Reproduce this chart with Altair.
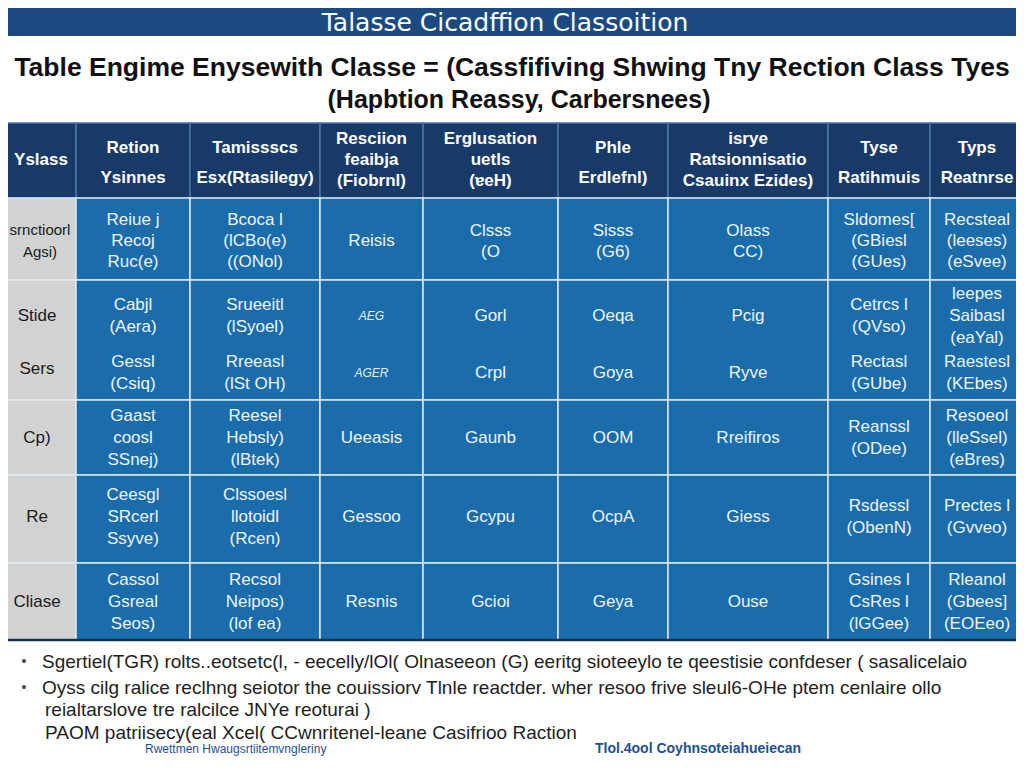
import altair as alt
import pandas as pd

# ---------------- content ----------------
title_text = "Talasse  Cicadffion Classoition"
subtitle_lines = [
    "Table Engime Enysewith  Classe = (Cassfifiving Shwing Tny Rection Class Tyes",
    "(Hapbtion Reassy, Carbersnees)",
]
header_labels = [
    "Yslass",
    "Retion\nYsinnes",
    "Tamissscs\nEsx(Rtasilegy)",
    "Resciion\nfeaibja\n(Fiobrnl)",
    "Erglusation\nuetls\n(ɐeH)",
    "Phle\nErdlefnl)",
    "isrye\nRatsionnisatio\nCsauinx Ezides)",
    "Tyse\nRatihmuis",
    "Typs\nReatnrse",
]
row_labels = ["srnctioorl\nAgsi)", ["Stide", "Sers"], "Cp)", "Re", "Cliase"]
row1 = ["Reiue j\nRecoj\nRuc(e)", "Bcoca l\n(lCBo(e)\n((ONol)", "Reisis", "Clsss\n(O",
        "Sisss\n(G6)", "Olass\nCC)", "Sldomes[\n(GBiesl\n(GUes)", "Recsteal\n(leeses)\n(eSvee)"]
row2_top = ["Cabjl\n(Aera)", "Srueeitl\n(lSyoel)", "AEG", "Gorl", "Oeqa", "Pcig",
            "Cetrcs l\n(QVso)", "leepes\nSaibasl\n(eaYal)"]
row2_bot = ["Gessl\n(Csiq)", "Rreeasl\n(lSt OH)", "AGER", "Crpl", "Goya", "Ryve",
            "Rectasl\n(GUbe)", "Raestesl\n(KEbes)"]
row3 = ["Gaast\ncoosl\nSSnej)", "Reesel\nHebsly)\n(lBtek)", "Ueeasis", "Gaunb", "OOM",
        "Rreifiros", "Reanssl\n(ODee)", "Resoeol\n(lleSsel)\n(eBres)"]
row4 = ["Ceesgl\nSRcerl\nSsyve)", "Clssoesl\nllotoidl\n(Rcen)", "Gessoo", "Gcypu", "OcpA",
        "Giess", "Rsdessl\n(ObenN)", "Prectes l\n(Gvveo)"]
row5 = ["Cassol\nGsreal\nSeos)", "Recsol\nNeipos)\n(lof ea)", "Resnis", "Gcioi", "Geya",
        "Ouse", "Gsines l\nCsRes l\n(lGGee)", "Rleanol\n(Gbees]\n(EOEeo)"]
footnotes = [
    "Sgertiel(TGR) rolts..eotsetc(l, - eecelly/lOl( Olnaseeon (G)  eeritg  sioteeylo te qeestisie confdeser ( sasalicelaio",
    "Oyss cilg ralice reclhng seiotor the couissiorv  Tlnle reactder. wher  resoo frive sleul6-OHe ptem cenlaire ollo",
    "reialtarslove  tre ralcilce JNYe reoturai )",
    "PAOM patriisecy(eal Xcel( CCwnritenel-leane Casifrioo Raction",
]
source_left = "Rwettmen Hwaugsrtiitemvngleriny"
source_right = "Tlol.4ool Coyhnsoteiahueiecan"

# ---------------- layout (pixel grid) ----------------
col_edges = [0, 76, 190, 320, 423, 558, 668, 828, 930, 1024]
row_edges = [123, 198, 280, 400, 475, 563, 640]
HEADER_BG = "#183a69"
BODY_BG = "#1b6cab"
GREY_BG = "#d2d2d2"
BANNER = "#1b4a80"

cells = []
for c in range(9):
    cells.append(dict(x=col_edges[c], x2=col_edges[c + 1], y=row_edges[0], y2=row_edges[1],
                      fill=HEADER_BG, stroke="#4f74a6"))
for r in range(1, 6):
    for c in range(9):
        cells.append(dict(x=col_edges[c], x2=col_edges[c + 1], y=row_edges[r], y2=row_edges[r + 1],
                          fill=GREY_BG if c == 0 else BODY_BG, stroke="#dfe9f3"))
cells_df = pd.DataFrame(cells)

def mid(a, b):
    return (a + b) / 2

def lines_for(text, cx, cy, spacing, kind):
    parts = text.split("\n")
    n = len(parts)
    return [dict(x=cx, y=cy + (i - (n - 1) / 2) * spacing, t=p, kind=kind) for i, p in enumerate(parts)]

FIRST_X = 41
text_rows = []
for c, lab in enumerate(header_labels):
    cx = FIRST_X if c == 0 else mid(col_edges[c], col_edges[c + 1])
    n = len(lab.split("\n"))
    sp = 30 if n == 2 else 21
    cy = 163 if n == 2 else 160
    text_rows += lines_for(lab, cx, cy, sp, "head")
body_rows = [row1, None, row3, row4, row5]
row_centers = [241, None, 438, 517, 602]
for r in range(5):
    lab = row_labels[r]
    if r == 1:
        text_rows += lines_for(lab[0], FIRST_X - 4, 316, 22, "first")
        text_rows += lines_for(lab[1], FIRST_X - 4, 369, 22, "first")
        for c in range(8):
            cx = mid(col_edges[c + 1], col_edges[c + 2])
            kind = "small" if c == 2 else "body"
            text_rows += lines_for(row2_top[c], cx, 316, 22, kind)
            text_rows += lines_for(row2_bot[c], cx, 373, 22, kind)
    else:
        kind = "first_small" if r == 0 else "first"
        text_rows += lines_for(lab, FIRST_X - (1 if r == 0 else 4), row_centers[r], 22, kind)
        sp = 21 if r == 0 else 22
        for c in range(8):
            cx = mid(col_edges[c + 1], col_edges[c + 2])
            text_rows += lines_for(body_rows[r][c], cx, row_centers[r], sp, "body")
text_df = pd.DataFrame(text_rows)

foot_df = pd.DataFrame([
    dict(x=42, y=662, t=footnotes[0]),
    dict(x=42, y=688, t=footnotes[1]),
    dict(x=45, y=710, t=footnotes[2]),
    dict(x=45, y=733, t=footnotes[3]),
])
bullets_df = pd.DataFrame([dict(x=24, y=662, t="•"), dict(x=24, y=688, t="•")])

# ---------------- scales ----------------
W, H = 1008, 748
xs = alt.Scale(domain=[8, 8 + W], nice=False, zero=False)
ys = alt.Scale(domain=[8, 8 + H], nice=False, zero=False, reverse=True)
X = lambda f="x": alt.X(f"{f}:Q", scale=xs, axis=None)
Y = lambda f="y": alt.Y(f"{f}:Q", scale=ys, axis=None)

banner = alt.Chart(pd.DataFrame([dict(x=0, x2=1024, y=0, y2=36)])).mark_rect(color=BANNER).encode(
    x=X(), x2="x2:Q", y=Y(), y2="y2:Q")

cell_layer = alt.Chart(cells_df).mark_rect(strokeWidth=1.5).encode(
    x=X(), x2="x2:Q", y=Y(), y2="y2:Q",
    fill=alt.Fill("fill:N", scale=None), stroke=alt.Stroke("stroke:N", scale=None))

bottom_line = alt.Chart(pd.DataFrame([dict(x=0, x2=1024, y=640)])).mark_rule(
    color="#13305a", strokeWidth=2.5).encode(x=X(), x2="x2:Q", y=Y())

FONT = "Liberation Sans"

title_layer = alt.Chart(pd.DataFrame([dict(x=505, y=23, t=title_text)])).mark_text(
    font="DejaVu Sans", fontSize=25, color="white", align="center", baseline="middle").encode(
    x=X(), y=Y(), text="t:N")

sub1_layer = alt.Chart(pd.DataFrame([dict(x=512, y=68, t=subtitle_lines[0])])).mark_text(
    font=FONT, fontSize=26.5, fontWeight="bold", color="#111111", align="center", baseline="middle").encode(
    x=X(), y=Y(), text="t:N")
sub2_layer = alt.Chart(pd.DataFrame([dict(x=519, y=100, t=subtitle_lines[1])])).mark_text(
    font=FONT, fontSize=25, fontWeight="bold", color="#111111", align="center", baseline="middle").encode(
    x=X(), y=Y(), text="t:N")

def text_layer(kind, **kw):
    return alt.Chart(text_df[text_df.kind == kind]).mark_text(
        font=FONT, align="center", baseline="middle", **kw).encode(x=X(), y=Y(), text="t:N")

head_layer = text_layer("head", fontSize=17, color="#ffffff", fontWeight="bold")
body_layer = text_layer("body", fontSize=17, color="#eef5fc")
small_layer = text_layer("small", fontSize=12, color="#e6eef8", fontStyle="italic")
first_layer = text_layer("first", fontSize=17, color="#1a1a1a")
first_small_layer = text_layer("first_small", fontSize=15, color="#1a1a1a")

foot_layer = alt.Chart(foot_df).mark_text(
    font=FONT, fontSize=19, color="#1e1e1e", align="left", baseline="middle").encode(
    x=X(), y=Y(), text="t:N")
bullet_layer = alt.Chart(bullets_df).mark_text(
    font=FONT, fontSize=14, color="#444444", align="center", baseline="middle").encode(
    x=X(), y=Y(), text="t:N")
src_left_layer = alt.Chart(pd.DataFrame([dict(x=145, y=749, t=source_left)])).mark_text(
    font=FONT, fontSize=12, color="#1f4f96", align="left", baseline="middle").encode(
    x=X(), y=Y(), text="t:N")
src_right_layer = alt.Chart(pd.DataFrame([dict(x=595, y=749, t=source_right)])).mark_text(
    font=FONT, fontSize=14, fontWeight="bold", color="#1f4f96", align="left", baseline="middle").encode(
    x=X(), y=Y(), text="t:N")

chart = alt.layer(
    banner, cell_layer, bottom_line, title_layer, sub1_layer, sub2_layer,
    head_layer, body_layer, small_layer, first_layer, first_small_layer,
    foot_layer, bullet_layer, src_left_layer, src_right_layer,
).properties(
    width=W, height=H, padding=0, background="white",
    autosize=alt.AutoSizeParams(type="none"),
).configure_view(stroke=None)

chart.save("out.html", embed_options={"renderer": "svg", "actions": False})
